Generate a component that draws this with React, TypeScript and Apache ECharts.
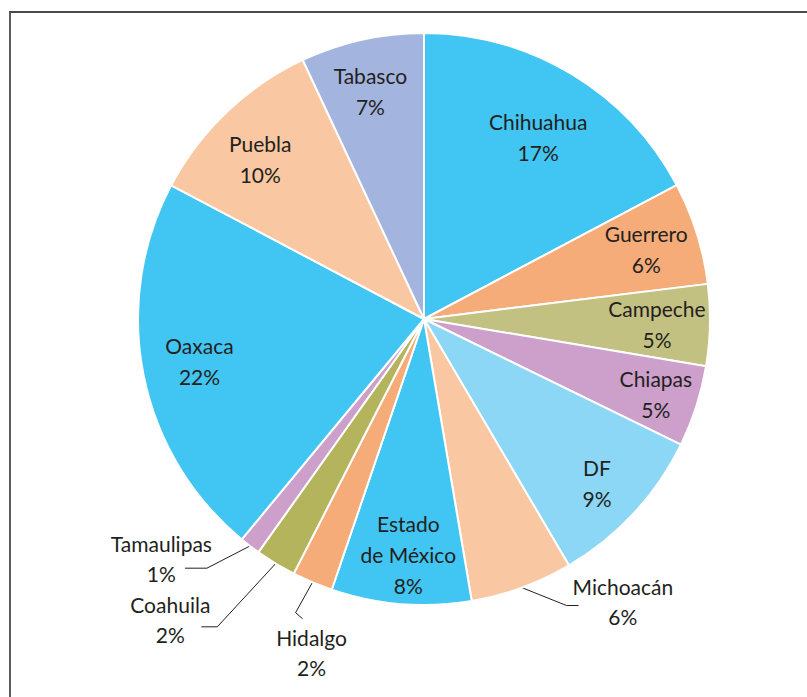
import React, { useEffect, useRef } from "react";
import * as echarts from "echarts";

const states = [
  "Chihuahua",
  "Guerrero",
  "Campeche",
  "Chiapas",
  "DF",
  "Michoacán",
  "Estado de México",
  "Hidalgo",
  "Coahuila",
  "Tamaulipas",
  "Oaxaca",
  "Puebla",
  "Tabasco",
];
const shares = [17.25, 5.8, 4.6, 4.6, 9.3, 5.8, 7.9, 2.3, 2.3, 1.17, 21.75, 10.3, 6.97];
const colors = [
  "#41C5F2",
  "#F6AC78",
  "#C3C182",
  "#CD9FCB",
  "#8DD7F6",
  "#F9C7A1",
  "#41C5F2",
  "#F6AC78",
  "#B3B45B",
  "#CD9FCB",
  "#41C5F2",
  "#F9C7A1",
  "#A3B5DE",
];

const FONT = "Lato";
const FS = 21;
const LH = 30;
const LH_IN = 31;
const TXT = "#231F20";

// small nudges of the inside labels (px)
const insideNudge: Record<string, [number, number]> = {
  Chihuahua: [-6, 18],
  Puebla: [-3, 9],
  DF: [2, 6],
  Oaxaca: [4, -4],
  Chiapas: [10, 4],
  Tabasco: [-3, -1],
  "Estado de México": [3, 3],
};

// styling for labels that sit outside the pie with a leader line
const outsideStyle: Record<string, any> = {
  Michoacán: { length: 19, length2: 50, dist: -6, pad: [0, 0, 8, 0], bend: [-12, 0], tail: [0, 0] },
  Hidalgo: { length: 33, length2: 0, dist: -12, pad: [10, 0, 0, 0], bend: [-4, 0], tail: [3, 6] },
  Coahuila: { length: 74, length2: 36, dist: -9, pad: [0, 0, 14, 0], bend: [16, 0], tail: [0, 0] },
  Tamaulipas: { length: 28, length2: 48, dist: -27, pad: [0, 0, 20, 0], bend: [22, 0], tail: [0, 0] },
};

const pct = (v: number) => Math.round(v) + "%";
const display = (n: string) => n.replace("Estado de", "Estado\nde");

export default function App() {
  const ref = useRef<HTMLDivElement>(null);
  useEffect(() => {
    if (!ref.current) return;
    const chart = echarts.init(ref.current, null, { renderer: "svg" });
    const sectorData = states.map((n, i) => ({
      name: n,
      value: shares[i],
      itemStyle: { color: colors[i] },
    }));
    const labelData = states.map((n, i) => {
      const o = outsideStyle[n];
      if (!o) return { name: n, value: shares[i] };
      return {
        name: n,
        value: shares[i],
        label: {
          position: "outside",
          distanceToLabelLine: o.dist,
          padding: o.pad,
          formatter: (p: any) => `{c|${p.name}}\n{c|${pct(p.value)}}`,
          rich: {
            c: {
              align: "center",
              fontFamily: FONT,
              fontSize: FS,
              lineHeight: LH,
              color: TXT,
            },
          },
        },
        labelLine: {
          show: true,
          length: o.length,
          length2: o.length2,
          lineStyle: { color: TXT, width: 1 },
        },
      };
    });
    const layoutFn = (p: any) => {
      const name = states[p.dataIndex];
      const o = outsideStyle[name];
      if (o) {
        const pts = p.labelLinePoints;
        const res: any = {};
        if (pts && pts.length === 3) {
          const end = pts[2];
          res.labelLinePoints = [
            pts[0],
            [end[0] + o.bend[0], end[1] + o.bend[1]],
            [end[0] + o.tail[0], end[1] + o.tail[1]],
          ];
        }
        if (name === "Hidalgo") {
          res.align = "center";
          res.verticalAlign = "top";
        }
        return res;
      }
      const nud = insideNudge[name];
      if (nud && p.labelRect) {
        const r = p.labelRect;
        return {
          x: r.x + r.width / 2 + nud[0],
          y: r.y + r.height / 2 + nud[1],
          align: "center",
          verticalAlign: "middle",
        };
      }
      return {};
    };
    chart.setOption({
      animation: false,
      backgroundColor: "#ffffff",
      graphic: [
        {
          type: "line",
          shape: { x1: 10, y1: 11, x2: 10, y2: 697 },
          style: { stroke: "#5c5c5c", lineWidth: 2 },
        },
        {
          type: "line",
          shape: { x1: 9, y1: 12, x2: 807, y2: 12 },
          style: { stroke: "#4a4a4a", lineWidth: 2 },
        },
      ],
      series: [
        {
          type: "pie",
          center: [424, 319],
          radius: [0, 286],
          startAngle: 90,
          clockwise: true,
          silent: true,
          label: { show: false },
          labelLine: { show: false },
          itemStyle: { borderColor: "#ffffff", borderWidth: 2 },
          data: sectorData,
        },
        {
          type: "pie",
          center: [424, 319],
          radius: [174, 286],
          startAngle: 90,
          clockwise: true,
          silent: true,
          avoidLabelOverlap: false,
          itemStyle: { color: "rgba(0,0,0,0)", borderWidth: 0 },
          label: {
            show: true,
            position: "inside",
            fontFamily: FONT,
            fontSize: FS,
            lineHeight: LH_IN,
            color: TXT,
            formatter: (p: any) => `${display(p.name)}\n${pct(p.value)}`,
          },
          labelLine: { show: false },
          labelLayout: layoutFn,
          data: labelData,
        },
      ],
    });
    return () => chart.dispose();
  }, []);
  return (
    <div
      ref={ref}
      style={{ position: "absolute", left: 0, top: 0, width: 807, height: 697 }}
    />
  );
}
